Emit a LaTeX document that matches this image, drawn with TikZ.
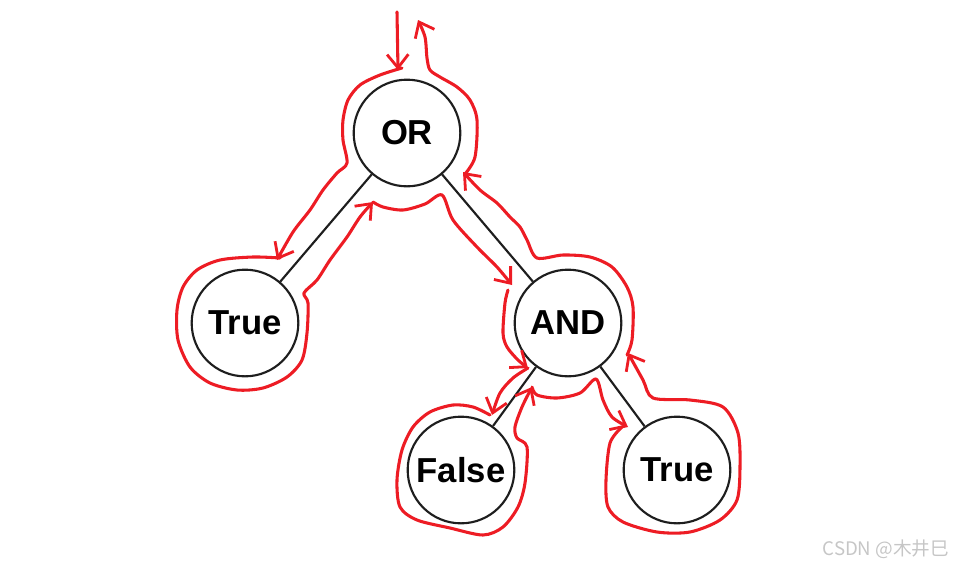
\documentclass[tikz,border=0pt]{standalone}
\usepackage{fontspec}
\setmainfont{Liberation Sans}
\newfontfamily\cjk{Noto Sans CJK SC}
\usetikzlibrary{arrows.meta}
\definecolor{penred}{HTML}{ED1C24}
\definecolor{ink}{HTML}{1E1E1E}

\begin{document}
\begin{tikzpicture}[x=0.75pt, y=-0.75pt,
        vert/.style={circle, draw=ink, line width=1.6pt, fill=white,
            minimum size=80pt, inner sep=0pt, font=\fontsize{26}{30}\selectfont\bfseries},
        edge/.style={ink, line width=1.6pt},
        trace/.style={penred, line width=2.3pt, line cap=round, line join=round},
        tarr/.style={trace, -{Straight Barb[length=10pt, width=16pt, line width=2.1pt]}}
      ]
      \useasboundingbox (0,0) rectangle (957,568);

      % Tree nodes
      \node[vert] at (407, 133) (or)  {OR};
      \node[vert] at (245, 323) (t1)  {True};
      \node[vert] at (568, 323) (and) {AND};
      \node[vert] at (461, 470) (f)   {False};
      \node[vert] at (677, 470) (t2)  {True};

      % Tree edges
      \draw[edge] (or)  -- (t1);
      \draw[edge] (or)  -- (and);
      \draw[edge] (and) -- (f);
      \draw[edge] (and) -- (t2);

      % Traversal: enter at top
      \draw[tarr] (397,12) -- (398,70);

      % Around OR (left) down to True
      \draw[tarr] plot[smooth] coordinates {(402,68) (380,75) (360,85) (348,100) (343,120)
          (343,140) (347,163) (337,173) (323,190) (310,210) (293,232) (277,260)};

      % Around left True and back up to OR
      \draw[tarr] plot[smooth] coordinates {(280,258) (253,257) (220,260) (197,270) (183,287)
          (177,310) (178,340) (190,367) (210,383) (237,390) (263,388) (287,377) (302,360)
          (307,333) (308,303) (304,293) (317,280) (330,260) (347,237) (360,217) (373,202)};

      % Under OR down to AND
      \draw[tarr] plot[smooth] coordinates {(373,202) (383,207) (403,210) (425,204)
          (442,195) (453,220) (477,247) (497,267) (512,285)};

      % AND left side
      \draw[tarr] plot[smooth] coordinates {(508,290) (505,303) (503,333) (507,347)
          (518,360) (528,368)};
      \draw[tarr] plot[smooth] coordinates {(528,368) (513,378) (500,393) (492,415)};

      % Around False and back up to AND
      \draw[tarr] plot[smooth] coordinates {(490,415) (473,407) (453,405) (430,412)
          (413,427) (402,450) (397,480) (400,507) (417,520) (450,528) (483,535)
          (503,527) (518,507) (525,483) (527,447) (517,438) (515,427) (522,407) (532,387)};

      % Under AND down to right True
      \draw[tarr] plot[smooth] coordinates {(532,387) (537,395) (557,398) (580,393)
          (596,379) (603,400) (612,417) (628,427)};

      % Around right True and back up to AND
      \draw[tarr] plot[smooth] coordinates {(622,427) (610,443) (606,480) (608,507)
          (623,522) (657,532) (690,532) (720,520) (737,500) (740,467) (738,433)
          (723,407) (690,400) (653,398) (643,380) (628,353)};

      % AND right side back up to OR
      \draw[tarr] plot[smooth] coordinates {(627,355) (632,340) (633,307) (627,287)
          (612,267) (590,257) (563,255) (537,258) (527,240) (520,227) (510,217)
          (497,203) (480,190) (463,172)};

      % OR right side and exit at top
      \draw[tarr] plot[smooth] coordinates {(465,174) (475,157) (477,120) (470,100)
          (457,87) (440,77) (430,70) (427,58) (425,37) (418,20)};

      % Watermark
      \node[font=\cjk\fontsize{14}{16}\selectfont, text=gray!45, anchor=east]
          at (954, 549) (mark) {CSDN @木井巳};
    \end{tikzpicture}
\end{document}
